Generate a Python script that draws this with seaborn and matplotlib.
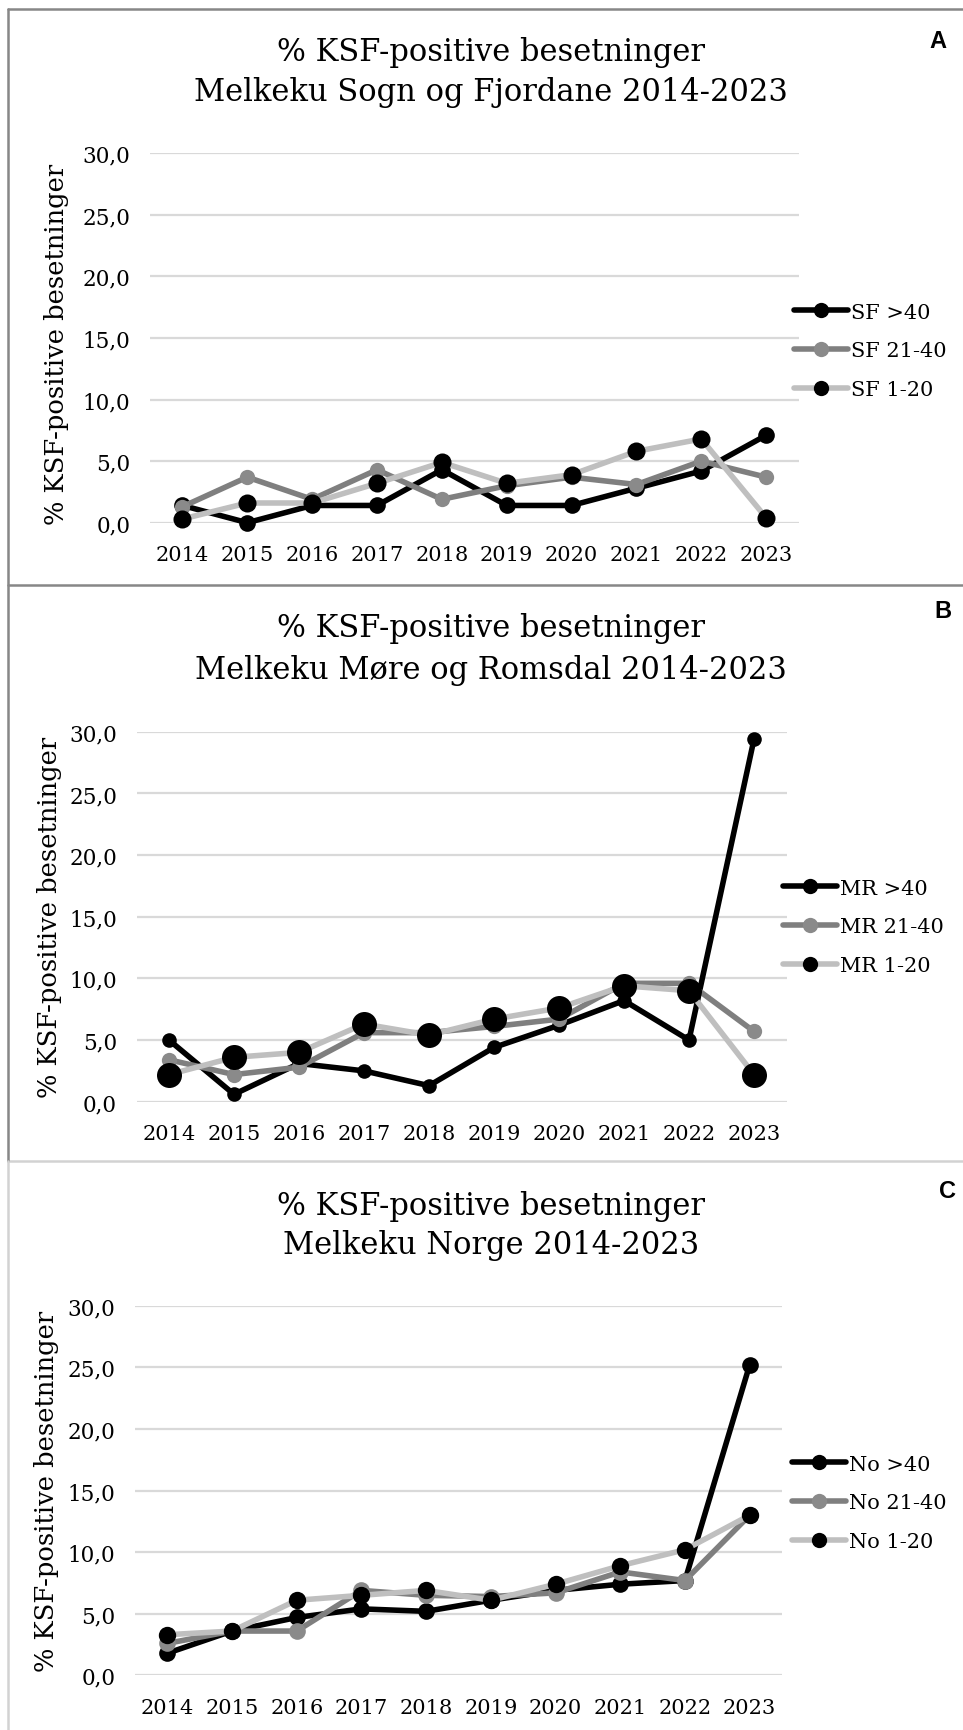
import matplotlib
matplotlib.use("Agg")
import matplotlib.pyplot as plt
import seaborn as sns
import pandas as pd
from matplotlib.lines import Line2D

# ---------------- data ----------------
years = [2014, 2015, 2016, 2017, 2018, 2019, 2020, 2021, 2022, 2023]
year_labels = [str(y) for y in years]
y_ticks = [0, 5, 10, 15, 20, 25, 30]
y_tick_labels = ["0,0", "5,0", "10,0", "15,0", "20,0", "25,0", "30,0"]

sf_over40 = [1.4, 0.0, 1.4, 1.4, 4.3, 1.4, 1.4, 2.8, 4.2, 7.1]
sf_21_40 = [1.3, 3.7, 1.9, 4.3, 1.9, 3.0, 3.7, 3.1, 5.0, 3.7]
sf_1_20 = [0.3, 1.6, 1.6, 3.2, 4.9, 3.2, 3.9, 5.8, 6.8, 0.4]

mr_over40 = [5.0, 0.6, 3.1, 2.5, 1.3, 4.4, 6.2, 8.2, 5.0, 29.4]
mr_21_40 = [3.4, 2.2, 2.8, 5.6, 5.6, 6.1, 6.7, 9.6, 9.6, 5.7]
mr_1_20 = [2.2, 3.6, 4.0, 6.3, 5.4, 6.7, 7.6, 9.4, 9.0, 2.2]

no_over40 = [1.8, 3.6, 4.7, 5.4, 5.2, 6.1, 6.9, 7.4, 7.7, 25.2]
no_21_40 = [2.6, 3.6, 3.6, 6.9, 6.5, 6.4, 6.7, 8.4, 7.7, 13.0]
no_1_20 = [3.3, 3.6, 6.1, 6.5, 6.9, 6.1, 7.4, 8.9, 10.2, 13.0]

title_line1 = "% KSF-positive besetninger"
titles_line2 = ["Melkeku Sogn og Fjordane 2014-2023",
                "Melkeku Møre og Romsdal 2014-2023",
                "Melkeku Norge 2014-2023"]
panel_letters = ["A", "B", "C"]
prefixes = ["SF", "MR", "No"]
groups = [">40", "21-40", "1-20"]
ylabel = "% KSF-positive besetninger"

# ---------------- style ----------------
sns.set_style("white")
plt.rcParams["font.family"] = ["DejaVu Serif"]
plt.rcParams["text.color"] = "black"
plt.rcParams["axes.labelcolor"] = "black"
plt.rcParams["xtick.color"] = "black"
plt.rcParams["ytick.color"] = "black"

W, H = 963, 1731
fig = plt.figure(figsize=(W / 100, H / 100), dpi=100)

BLACK = "#000000"
GRAY_LINE = "#7f7f7f"
GRAY_MARK = "#8a8a8a"
LIGHT = "#bfbfbf"

# panel geometry in pixels: (x_left, x_right, y_of_0, y_of_30)
geom = [
    (150.0, 798.6, 523.7, 154.3),
    (136.5, 786.5, 1102.7, 732.8),
    (135.0, 782.0, 1676.4, 1306.8),
]
title_y = [(52.7, 92.2), (628.0, 670.6), (1207.0, 1245.6)]
letter_pos = [(938, 42), (943, 612), (947, 1192)]
legend_pos = [(794, 351.8), (783, 927.8), (792, 1503.8)]
ylabel_coords = [(-0.125, 0.486), (-0.114, 0.5), (-0.117, 0.5)]
msizes = [(12.0, 11.0, 13.0), (10.5, 11.0, 18.0), (12.0, 12.0, 12.5)]

data = [
    (sf_over40, sf_21_40, sf_1_20),
    (mr_over40, mr_21_40, mr_1_20),
    (no_over40, no_21_40, no_1_20),
]

LW = 4.0
for i in range(3):
    xl, xr, y0, y30 = geom[i]
    ax = fig.add_axes([xl / W, 1 - y0 / H, (xr - xl) / W, (y0 - y30) / H])
    s40, s2140, s120 = data[i]
    df = pd.DataFrame({"year": years, "a": s40, "b": s2140, "c": s120})
    ms40, ms2140, ms120 = msizes[i]
    p = prefixes[i]
    sns.lineplot(data=df, x="year", y="a", ax=ax, color=BLACK, lw=LW,
                 marker="o", markersize=ms40, markerfacecolor=BLACK,
                 markeredgecolor=BLACK, markeredgewidth=0, clip_on=False,
                 label=f"{p} {groups[0]}", errorbar=None, zorder=3)
    sns.lineplot(data=df, x="year", y="b", ax=ax, color=GRAY_LINE, lw=LW,
                 marker="o", markersize=ms2140, markerfacecolor=GRAY_MARK,
                 markeredgecolor=GRAY_MARK, markeredgewidth=0, clip_on=False,
                 label=f"{p} {groups[1]}", errorbar=None, zorder=4)
    sns.lineplot(data=df, x="year", y="c", ax=ax, color=LIGHT, lw=LW,
                 marker="o", markersize=ms120, markerfacecolor=BLACK,
                 markeredgecolor=BLACK, markeredgewidth=0, clip_on=False,
                 label=f"{p} {groups[2]}", errorbar=None, zorder=5)

    ax.set_xlim(years[0] - 0.5, years[-1] + 0.5)
    ax.set_ylim(0, 30)
    ax.set_xticks(years)
    ax.set_xticklabels(year_labels, fontsize=15)
    ax.set_yticks(y_ticks)
    ax.set_yticklabels(y_tick_labels, fontsize=15.5)
    ax.tick_params(axis="both", length=0)
    ax.tick_params(axis="x", pad=16)
    ax.tick_params(axis="y", pad=14)
    for sp in ax.spines.values():
        sp.set_visible(False)
    ax.set_axisbelow(True)
    ax.yaxis.grid(True, color="#d9d9d9", lw=1.6)
    ax.xaxis.grid(False)
    ax.set_xlabel("")
    ax.set_ylabel(ylabel, fontsize=18.5)
    ax.yaxis.set_label_coords(*ylabel_coords[i])

    lx, ly = legend_pos[i]
    leg = ax.legend(loc="center left", bbox_to_anchor=(lx / W, 1 - ly / H),
                    bbox_transform=fig.transFigure, frameon=False,
                    fontsize=15, handlelength=2.6, handletextpad=0.15,
                    labelspacing=0.95, borderpad=0, borderaxespad=0)
    for h in leg.legend_handles:
        h.set_markersize(11)

    cx = 491 / W
    fig.text(cx, 1 - title_y[i][0] / H, title_line1, ha="center", va="center",
             fontsize=22)
    fig.text(cx, 1 - title_y[i][1] / H, titles_line2[i], ha="center",
             va="center", fontsize=22)
    fig.text(letter_pos[i][0] / W, 1 - letter_pos[i][1] / H, panel_letters[i],
             ha="center", va="center", fontsize=17, fontweight="bold",
             family=["Liberation Sans", "DejaVu Sans"])

# panel frame lines
DARK_FRAME = "#878787"
LIGHT_FRAME = "#d2d2d2"
def hline(y, x0, x1, c):
    fig.add_artist(Line2D([x0 / W, x1 / W], [1 - y / H, 1 - y / H], color=c,
                          lw=1.8, transform=fig.transFigure))
def vline(x, y0, y1, c):
    fig.add_artist(Line2D([x / W, x / W], [1 - y0 / H, 1 - y1 / H], color=c,
                          lw=1.8, transform=fig.transFigure))

hline(10, 8, W, DARK_FRAME)
hline(586, 8, W, DARK_FRAME)
hline(1162, 8, W, LIGHT_FRAME)
vline(8, 10, 1162, DARK_FRAME)
vline(8, 1162, H, LIGHT_FRAME)

fig.savefig("out.png", dpi=100)
